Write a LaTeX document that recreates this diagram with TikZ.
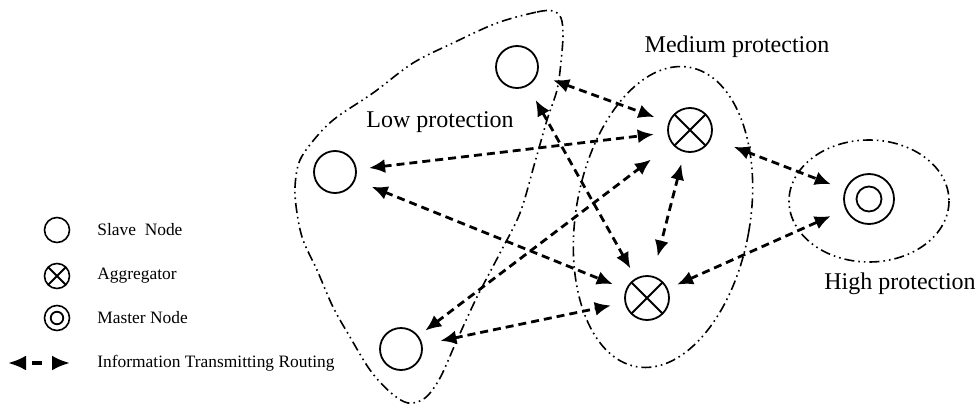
\documentclass[tikz,border=0pt]{standalone}
\usepackage{fontspec}
\setmainfont{Liberation Serif}
\usetikzlibrary{arrows.meta}

\tikzset{
  slave/.style={circle, draw, line width=0.9pt, minimum size=21pt, inner sep=0pt},
  aggregator/.style={slave, minimum size=22pt, path picture={
      \draw[line width=0.9pt] (path picture bounding box.north west) -- (path picture bounding box.south east)
        (path picture bounding box.north east) -- (path picture bounding box.south west);}},
  master/.style={slave, minimum size=#1, path picture={
      \draw[line width=0.9pt] (path picture bounding box.center) circle (#1/4);}},
  master/.default=25pt,
  zone/.style={line width=0.8pt, dash pattern=on 5pt off 2pt on 0.8pt off 2pt on 0.8pt off 2pt},
  link/.style={line width=1.4pt, dash pattern=on 4pt off 2.5pt,
      {Latex[length=8pt,width=7pt]}-{Latex[length=8pt,width=7pt]}, shorten <=#1, shorten >=#1},
  link/.default=7pt,
  zonelabel/.style={font=\fontsize{12}{14}\selectfont},
  legendtext/.style={font=\fontsize{8.7}{10}\selectfont, anchor=west, inner sep=0pt},
}

\begin{document}
\begin{tikzpicture}[x=0.5pt, y=-0.5pt]
\useasboundingbox (0,0) rectangle (979,407);

% protection zones
\draw[zone] plot[smooth cycle, tension=0.55] coordinates {
  (497,23) (537,12) (553,11) (561,18) (563,35) (561,62) (557,90) (547,120)
  (535,162) (520,213) (500,253) (477,297) (457,340) (440,378) (425,398)
  (408,403) (390,392) (370,370) (350,337) (333,307) (317,270) (303,240)
  (297,213) (295,187) (300,160) (318,135) (337,117) (373,93) (413,63) (453,43)};
\draw[zone, rotate around={-10:(663,217)}] (663,217) ellipse [x radius=87, y radius=152];
\draw[zone] (869,201) ellipse [x radius=80, y radius=61];

\node[zonelabel] (lowlabel) at (440,122) {Low protection};
\node[zonelabel] (midlabel) at (737,47) {Medium protection};
\node[zonelabel] (highlabel) at (900,284) {High protection};

% nodes
\node[slave] (slaveA) at (517,67) {};
\node[slave] (slaveB) at (335,172) {};
\node[slave] (slaveC) at (401,349) {};
\node[aggregator] (aggA) at (690,130) {};
\node[aggregator] (aggB) at (647,298) {};
\node[master] (master) at (869,199) {};

% routing
\draw[link, shorten <=8.3pt, shorten >=7.5pt] (slaveA) -- (aggA);
\draw[link, shorten <=6.2pt, shorten >=6.8pt] (slaveB) -- (aggA);
\draw[link, shorten <=8.8pt, shorten >=7pt] (slaveB) -- (aggB);
\draw[link, shorten <=8pt, shorten >=5.5pt] (slaveA) -- (aggB);
\draw[link, shorten <=4.3pt, shorten >=13pt] (slaveC) -- (aggA);
\draw[link, shorten <=9.2pt, shorten >=7pt] (slaveC) -- (aggB);
\draw[link, shorten <=6pt, shorten >=10pt] (aggA) -- (aggB);
\draw[link, shorten <=12pt, shorten >=7.5pt] (aggA) -- (master);
\draw[link, shorten <=5pt, shorten >=8pt] (aggB) -- (master);

% legend
\node[slave, minimum size=12.5pt, line width=0.8pt] (keyslave) at (57,230) {};
\node[aggregator, minimum size=12.5pt, line width=0.8pt] (keyagg) at (57,276) {};
\node[master=12.5pt, line width=0.8pt] (keymaster) at (57,318) {};
\coordinate (keyL) at (8,363);
\coordinate (keyR) at (70,363);
\draw[link=0pt, line width=1.6pt, dash pattern=on 0pt off 4pt on 5pt off 4pt,
  {Latex[length=9pt,width=7.5pt]}-{Latex[length=9pt,width=7.5pt]}] (keyL) -- (keyR);

\node[legendtext] (slavetext) at (97,230) {Slave\ \ Node};
\node[legendtext] (aggtext) at (97,276) {Aggregator};
\node[legendtext] (mastertext) at (97,318) {Master Node};
\node[legendtext] (linktext) at (97,363) {Information Transmitting Routing};
\end{tikzpicture}
\end{document}
